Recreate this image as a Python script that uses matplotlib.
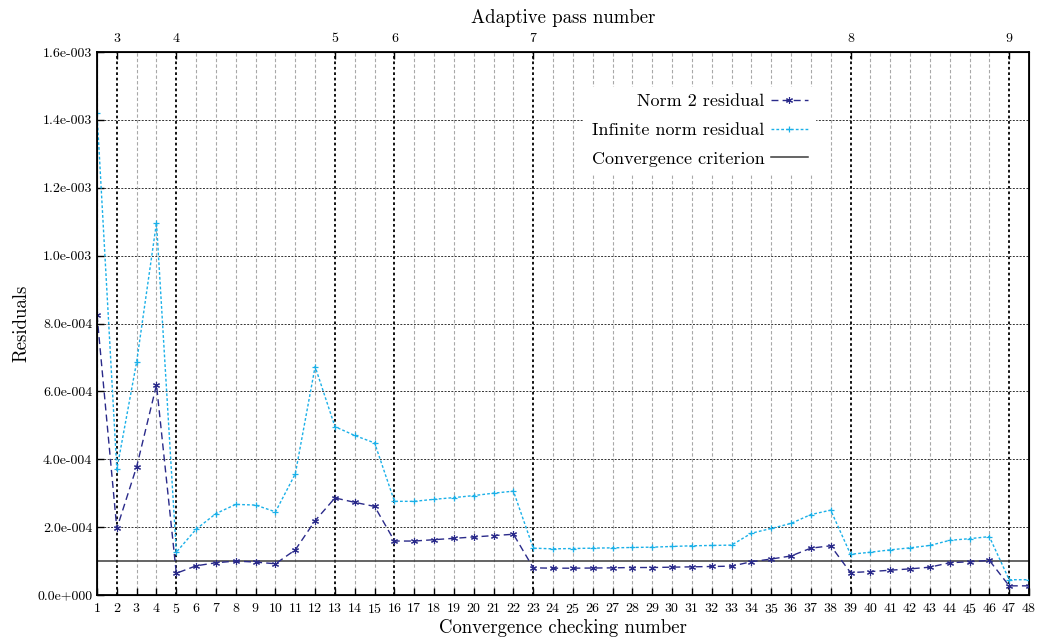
import numpy as np
import matplotlib
matplotlib.use("Agg")
import matplotlib.pyplot as plt
from matplotlib.ticker import FuncFormatter

# ---- data ----
check_numbers = list(range(1, 49))
norm2_residual = [8.25e-4, 1.96e-4, 3.78e-4, 6.19e-4, 0.64e-4, 0.86e-4, 0.95e-4, 1.00e-4,
                  0.97e-4, 0.92e-4, 1.33e-4, 2.19e-4, 2.86e-4, 2.73e-4, 2.61e-4, 1.59e-4,
                  1.59e-4, 1.63e-4, 1.67e-4, 1.71e-4, 1.75e-4, 1.79e-4, 0.80e-4, 0.79e-4,
                  0.79e-4, 0.795e-4, 0.80e-4, 0.81e-4, 0.81e-4, 0.82e-4, 0.83e-4, 0.84e-4,
                  0.85e-4, 0.98e-4, 1.06e-4, 1.15e-4, 1.38e-4, 1.45e-4, 0.66e-4, 0.69e-4,
                  0.73e-4, 0.77e-4, 0.82e-4, 0.95e-4, 0.98e-4, 1.02e-4, 0.27e-4, 0.27e-4]
inf_norm_residual = [1.42e-3, 3.70e-4, 6.87e-4, 1.097e-3, 1.26e-4, 1.94e-4, 2.40e-4, 2.67e-4,
                     2.65e-4, 2.45e-4, 3.57e-4, 6.73e-4, 4.96e-4, 4.70e-4, 4.48e-4, 2.76e-4,
                     2.76e-4, 2.82e-4, 2.87e-4, 2.93e-4, 3.00e-4, 3.06e-4, 1.38e-4, 1.36e-4,
                     1.37e-4, 1.38e-4, 1.39e-4, 1.40e-4, 1.41e-4, 1.43e-4, 1.45e-4, 1.46e-4,
                     1.47e-4, 1.82e-4, 1.96e-4, 2.11e-4, 2.37e-4, 2.50e-4, 1.20e-4, 1.26e-4,
                     1.33e-4, 1.39e-4, 1.46e-4, 1.61e-4, 1.66e-4, 1.72e-4, 0.45e-4, 0.45e-4]
convergence_criterion = 1.0e-4
pass_positions = [2, 5, 13, 16, 23, 39, 47]
pass_labels = ["3", "4", "5", "6", "7", "8", "9"]
y_ticks = [0.0, 2e-4, 4e-4, 6e-4, 8e-4, 1.0e-3, 1.2e-3, 1.4e-3, 1.6e-3]

plt.rcParams['font.family'] = ['cmr10', 'DejaVu Serif']
plt.rcParams['axes.formatter.use_mathtext'] = True

fig = plt.figure(figsize=(10.4, 6.41), dpi=100)
ax = fig.add_axes([97/1040, 1-595/641, (1029-97)/1040, (595-52)/641])

def fmt(v, pos=None):
    if v == 0:
        return "0.0e+000"
    e = int(np.floor(np.log10(abs(v)) + 1e-9))
    m = v / 10**e
    sign = "+" if e >= 0 else "-"
    return f"{m:.1f}e{sign}{abs(e):03d}"

# grids
for x in check_numbers:
    if x in pass_positions:
        continue
    ax.axvline(x, color="#a8a8a8", lw=0.8, ls=(0, (3, 2)), zorder=1)
for x in pass_positions:
    ax.axvline(x, color="black", lw=1.3, ls=(0, (1.5, 1.5)), zorder=1)
for y in y_ticks[1:-1]:
    ax.axhline(y, color="#333333", lw=0.7, ls=(0, (2, 1.5)), zorder=1)

ax.plot(check_numbers, norm2_residual, color="#2a2a8a", lw=1.0, ls=(0, (5, 3)),
        marker=(6, 2, 0), ms=5, mew=0.8, label="Norm 2 residual", zorder=3)
ax.plot(check_numbers, inf_norm_residual, color="#1ab0e8", lw=1.0, ls=(0, (2, 1.5)),
        marker="+", ms=5, mew=0.9, label="Infinite norm residual", zorder=3)
ax.axhline(convergence_criterion, color="#3a3a3a", lw=1.1, label="Convergence criterion", zorder=2)

ax.set_xlim(1, 48)
ax.set_ylim(0, 1.6e-3)
ax.set_xticks(check_numbers)
ax.set_yticks(y_ticks)
ax.yaxis.set_major_formatter(FuncFormatter(fmt))
ax.tick_params(axis="both", direction="in", labelsize=10, length=5, width=1.0)
ax.tick_params(axis="x", pad=5)
ax.set_xlabel("Convergence checking number", fontsize=13.5, labelpad=2)
ax.set_ylabel("Residuals", fontsize=13.5, labelpad=5)
for s in ax.spines.values():
    s.set_linewidth(1.3)

ax2 = ax.twiny()
ax2.set_xlim(ax.get_xlim())
ax2.set_xticks(pass_positions)
ax2.set_xticklabels(pass_labels)
ax2.tick_params(axis="x", direction="in", labelsize=10, length=5, width=1.0, pad=5)
ax2.set_xlabel("Adaptive pass number", fontsize=13.5, labelpad=7)

leg = ax.legend(loc="upper right", bbox_to_anchor=(0.78, 0.953), markerfirst=False,
                frameon=True, fancybox=False, facecolor="white", edgecolor="white",
                framealpha=1.0, fontsize=13, handlelength=2.05, labelspacing=0.72,
                handletextpad=0.35, borderpad=0.4)
leg.set_zorder(5)

fig.savefig("out.png", dpi=100)
